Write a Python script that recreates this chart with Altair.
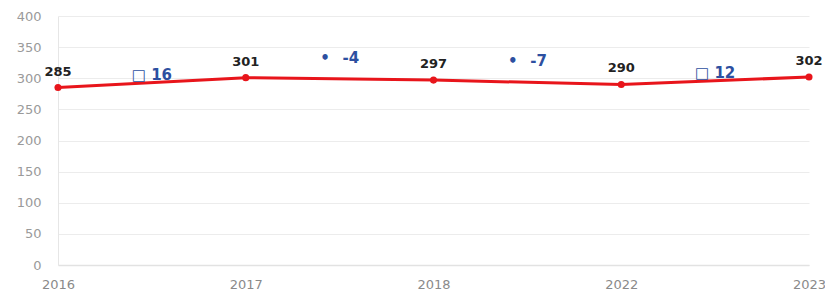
import altair as alt
import pandas as pd

years = ["2016", "2017", "2018", "2022", "2023"]
values = [285, 301, 297, 290, 302]
deltas = [16, -4, -7, 12]
delta_labels = ["□ 16", "•\u2002 -4", "•\u2002 -7", "□ 12"]
y_ticks = [0, 50, 100, 150, 200, 250, 300, 350, 400]

df = pd.DataFrame({"idx": list(range(len(years))), "year": years, "value": values})
mids = [(values[i] + values[i + 1]) / 2 for i in range(len(deltas))]
dd = pd.DataFrame({
    "idx": [i + 0.5 for i in range(len(deltas))],
    "value": mids,
    "delta": deltas,
    "label": delta_labels,
})

label_expr = "[" + ",".join(f"'{y}'" for y in years) + "][datum.value]"
FONT = "DejaVu Sans"

x_axis = alt.Axis(values=list(range(len(years))), labelExpr=label_expr, title=None,
                  grid=False, ticks=False, labelPadding=13, labelFontSize=13,
                  labelColor="#8a8a8a", domainColor="#e2e2e2", domainWidth=1.5,
                  labelFont=FONT, labelFlush=False, labelOverlap=False)
y_axis = alt.Axis(values=y_ticks, title=None, ticks=False, labelPadding=17,
                  labelFontSize=13, labelColor="#9a9a9a", gridColor="#ececec",
                  domainColor="#e6e6e6", labelFont=FONT)
x_scale = alt.Scale(domain=[0, len(years) - 1], nice=False, zero=False)
y_scale = alt.Scale(domain=[0, 400], nice=False)

x = alt.X("idx:Q", scale=x_scale, axis=x_axis)
y = alt.Y("value:Q", scale=y_scale, axis=y_axis)

base = alt.Chart(df)
line = base.mark_line(color="#e8151b", strokeWidth=3).encode(x=x, y=y)
pts = base.mark_point(color="#e8151b", filled=True, opacity=1, size=50).encode(x=x, y=y)
txt = base.mark_text(dy=-16, fontSize=13, fontWeight="bold", color="#222222",
                     font=FONT, baseline="middle").encode(
    x=x, y=y, text=alt.Text("value:Q"))

dbase = alt.Chart(dd)
up = dbase.transform_filter("datum.delta >= 0").mark_text(
    dy=-8, fontSize=15, fontWeight="bold", color="#2d4fa0", font=FONT,
    baseline="middle").encode(x=x, y=y, text="label:N")
down = dbase.transform_filter("datum.delta < 0").mark_text(
    dy=-21, fontSize=15, fontWeight="bold", color="#2d4fa0", font=FONT,
    baseline="middle").encode(x=x, y=y, text="label:N")

chart = alt.layer(line, pts, txt, up, down).properties(
    width=751, height=249,
    autosize=alt.AutoSizeParams(type="none"),
    padding={"left": 50, "top": 8, "right": 16, "bottom": 27},
).configure_view(stroke=None)

chart.save("out.html", embed_options={"renderer": "svg", "actions": False})
